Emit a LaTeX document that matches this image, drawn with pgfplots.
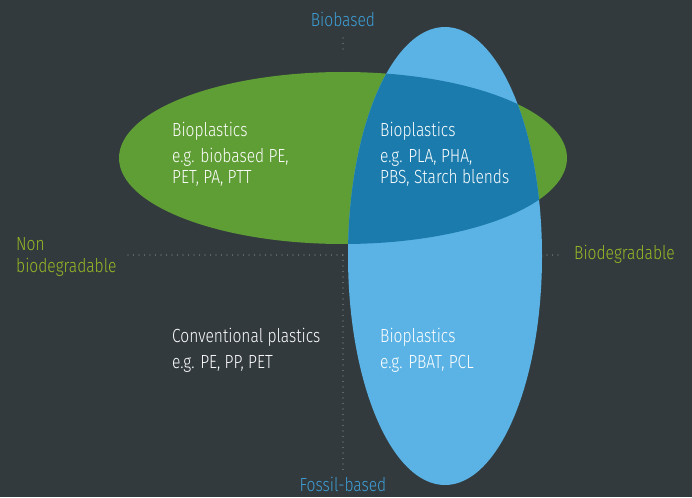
\documentclass[border=0pt]{standalone}
\usepackage{pgfplots}
\pgfplotsset{compat=1.18}
\usepackage{fontspec}
\setmainfont{Fira Sans Light}[FakeStretch=0.82]

\definecolor{bg}{HTML}{323A3E}
\definecolor{bioG}{HTML}{5F9D35}
\definecolor{bioB}{HTML}{5BB3E5}
\definecolor{both}{HTML}{1A7BAC}
\definecolor{lblB}{HTML}{3E9FD6}
\definecolor{lblG}{HTML}{99BB25}
\definecolor{dots}{HTML}{8A9297}

\tikzset{lab/.style={font=\fontsize{19}{22}\selectfont, inner sep=0pt}}

\begin{document}
\begin{tikzpicture}
\begin{axis}[
    scale only axis,
    width=692pt, height=497pt,
    xmin=0, xmax=692, ymin=0, ymax=497,
    y dir=reverse,
    hide axis,
    clip=false,
]
% background
\fill[bg] (axis cs:0,0) rectangle (axis cs:692,497);

% dotted axes
\addplot[dots, line width=1.4pt, dash pattern=on 0pt off 5.5pt, line cap=round]
    coordinates {(343,38)(343,52)};
\addplot[dots, line width=1.4pt, dash pattern=on 0pt off 5.5pt, line cap=round]
    coordinates {(343,255)(343,473)};
\addplot[dots, line width=1.4pt, dash pattern=on 0pt off 5.5pt, line cap=round]
    coordinates {(128,255)(345,255)};
\addplot[dots, line width=1.4pt, dash pattern=on 0pt off 5.5pt, line cap=round]
    coordinates {(547,255)(562,255)};

% biobased (green) and biodegradable (blue) sets
\fill[bioG] (axis cs:343,158) ellipse [x radius=224, y radius=86];
\fill[bioB] (axis cs:445,256) ellipse [x radius=97, y radius=229];
\begin{scope}
  \clip (axis cs:445,256) ellipse [x radius=97, y radius=229];
  \fill[both] (axis cs:343,158) ellipse [x radius=224, y radius=86];
\end{scope}

% quadrant texts
\node[lab, white, anchor=base west] at (axis cs:172,136) {Bioplastics};
\node[lab, white, anchor=base west] at (axis cs:172,162) {e.g. biobased PE,};
\node[lab, white, anchor=base west] at (axis cs:172,183) {PET, PA, PTT};

\node[lab, white, anchor=base west] at (axis cs:380,136) {Bioplastics};
\node[lab, white, anchor=base west] at (axis cs:380,162) {e.g. PLA, PHA,};
\node[lab, white, anchor=base west] at (axis cs:380,183) {PBS, Starch blends};

\node[lab, white, anchor=base west] at (axis cs:172,342) {Conventional plastics};
\node[lab, white, anchor=base west] at (axis cs:172,368) {e.g. PE, PP, PET};

\node[lab, white, anchor=base west] at (axis cs:380,342) {Bioplastics};
\node[lab, white, anchor=base west] at (axis cs:380,368) {e.g. PBAT, PCL};

% axis labels
\node[lab, lblB, anchor=base] at (axis cs:343,27) {Biobased};
\node[lab, lblB, anchor=base] at (axis cs:343,491) {Fossil-based};
\node[lab, lblG, anchor=base west] at (axis cs:16,250) {Non};
\node[lab, lblG, anchor=base west] at (axis cs:16,272) {biodegradable};
\node[lab, lblG, anchor=base west] at (axis cs:574,259) {Biodegradable};
\end{axis}
\end{tikzpicture}
\end{document}
